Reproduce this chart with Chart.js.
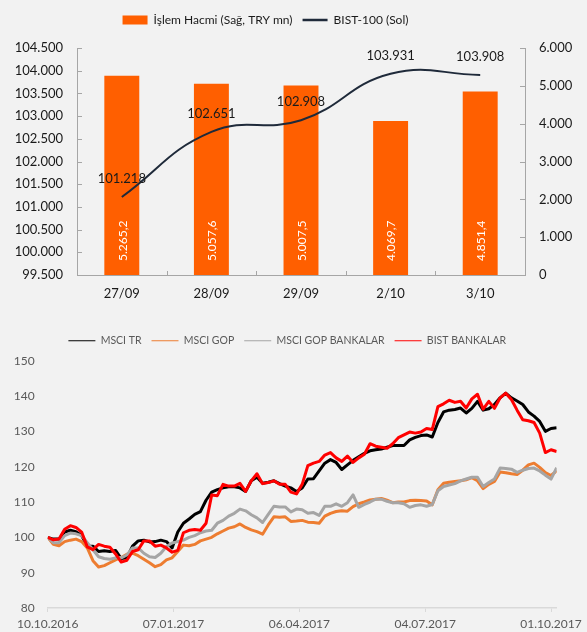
<!DOCTYPE html>
<html>
<head>
<meta charset="utf-8">
<script src="https://cdn.jsdelivr.net/npm/chart.js@4"></script>
<style>
  html, body { margin: 0; padding: 0; background: #f2f2f2; }
  #wrap { position: relative; width: 587px; height: 632px; }
  #top { position: absolute; left: 0; top: 0; width: 587px; height: 310px; }
  #bottom { position: absolute; left: 0; top: 320px; width: 587px; height: 312px; }
</style>
</head>
<body>
<div id="wrap">
  <div id="top"><canvas id="volumeChart"></canvas></div>
  <div id="bottom"><canvas id="indexChart"></canvas></div>
</div>
<script>
  'use strict';

  // top chart
  const sessions = ['27/09', '28/09', '29/09', '2/10', '3/10'];
  const volume = [5265.2, 5057.6, 5007.5, 4069.7, 4851.4];
  const bist100 = [101218, 102651, 102908, 103931, 103908];

  // bottom chart (x = days since 10.10.2016)
  const dateTicks = [0, 89, 178, 267, 356];
  const dateLabels = ['10.10.2016', '07.01.2017', '06.04.2017', '04.07.2017', '01.10.2017'];
  const dayOffsets = [
    0, 4, 8, 12, 16, 20, 24, 28, 32, 36, 40, 44, 48, 52, 56, 60, 64, 68, 72, 76,
    80, 84, 88, 92, 96, 100, 104, 108, 112, 116, 120, 124, 128, 132, 136, 140, 144, 148, 152, 156,
    160, 164, 168, 172, 176, 180, 184, 188, 192, 196, 200, 204, 208, 212, 216, 220, 224, 228, 232, 236,
    240, 244, 248, 252, 256, 260, 264, 268, 272, 276, 280, 284, 288, 292, 296, 300, 304, 308, 312, 316,
    320, 324, 328, 332, 336, 340, 344, 348, 352, 356, 360
  ];
  const msciTr = [
    100, 99.5, 99.5, 101.5, 102, 101.6, 100.5, 97.5, 97.5, 96, 96.2, 96, 96.3, 94, 94.2, 97.5, 99, 99.2, 98.7, 98.8,
    99.2, 98.8, 97, 101.5, 104, 105.2, 106.5, 107.3, 110.5, 112.8, 113.5, 114, 114.3, 114.3, 114, 113, 116, 117, 115.3, 115.6,
    116, 115.2, 114.5, 114, 113, 114, 116.5, 116.6, 118.8, 121, 122, 121.2, 119.2, 120.5, 121.8, 122.8, 123.8, 124.5, 124.8, 125,
    125.5, 126, 126, 126, 127.6, 128.3, 128.8, 129, 128.4, 132.5, 135.5, 136, 136.2, 136.6, 135.2, 136.5, 138.5, 136, 136.4, 137.6,
    139.5, 140.8, 139.5, 138.6, 137.6, 135.5, 134.3, 132.8, 130, 130.8, 131
  ];
  const msciGop = [
    100, 98, 97.6, 98.8, 99.2, 99.5, 98.8, 97, 93.4, 91.6, 92, 92.8, 93.6, 94.3, 95.2, 95.5, 94.8, 93.8, 92.8, 91.7,
    92.3, 93.6, 94.2, 96, 97.8, 97.6, 98, 99, 99.5, 100, 101, 101.8, 102.6, 103, 103.8, 102.8, 102.1, 101.6, 100.9, 103.5,
    105.8, 105.7, 105.8, 104.5, 104.6, 104.8, 104.3, 104.2, 104, 106, 106.8, 107.3, 107.5, 107.4, 108.7, 109.5, 110, 110.6, 110.8, 111,
    110.5, 109.8, 110, 110, 110.4, 110.5, 110.4, 110.3, 109.2, 113.5, 115.3, 115.6, 115.8, 116, 116.3, 116.9, 116, 113.8, 115, 115.8,
    118.5, 118.3, 118, 117.8, 119, 120.5, 121, 119.8, 118.3, 117.5, 118.8
  ];
  const msciGopBanks = [
    100, 98.5, 98.5, 100.5, 101.2, 101, 100.5, 98.5, 96.5, 94.5, 94, 93.8, 94.2, 94.2, 95, 97, 97, 95.5, 94.5, 94.3,
    95.5, 97.4, 98.4, 98.8, 99.2, 100, 100.5, 101.3, 101.8, 102, 104, 104.8, 106, 106.8, 108, 107.5, 106.4, 105.5, 104.2, 106.5,
    108.8, 108.6, 108.6, 107.2, 108, 107.8, 106.8, 107, 106.2, 108.8, 108.8, 109.5, 108.8, 109.8, 112, 108.5, 109.3, 110, 110.8, 110.8,
    110.2, 109.8, 109.8, 109.5, 108.5, 109, 109.2, 108.8, 109.3, 113.2, 114.4, 114.8, 115.2, 116, 116.5, 117, 117, 114.4, 115.5, 116.5,
    119.6, 119.5, 119.3, 118.4, 119, 119.5, 119.6, 118.8, 117.6, 116.5, 119.7
  ];
  const bistBanks = [
    100, 99.3, 99.5, 102.3, 103.3, 102.8, 101.5, 97.3, 96.5, 98, 97.5, 97.2, 95.3, 93, 93.5, 96, 96.5, 99, 99, 97.5,
    97.8, 97, 95.8, 96.3, 101.3, 102, 102.2, 102, 104, 112, 111.8, 115, 114.5, 114.5, 115.3, 113, 116, 118, 115.2, 115.5,
    116, 115, 115, 112.8, 112.3, 115, 120.3, 121, 121.5, 123.3, 124, 122.5, 121.5, 123, 121.2, 122.5, 123.5, 126.5, 125.8, 125.5,
    125.2, 126.5, 128.2, 129, 129.8, 129.5, 129.8, 130.8, 130.5, 137, 137.8, 138.8, 138.2, 138.5, 136.6, 139.2, 140.5, 136.3, 138.5, 136.5,
    139.5, 140.8, 139, 136, 133.3, 133, 132.5, 129.5, 124, 124.8, 124.3
  ];

  const FONT = 'Lato, "Liberation Sans", sans-serif';

  function formatTr(value, decimals) {
    const parts = value.toFixed(decimals).split('.');
    const whole = parts[0].replace(/\B(?=(\d{3})+(?!\d))/g, '.');
    return parts.length > 1 ? whole + ',' + parts[1] : whole;
  }

  function toPoints(values) {
    return dayOffsets.map(function (d, i) {
      return { x: d, y: values[i] };
    });
  }

  // extra room under the legend and a small horizontal shift of it
  function legendSpacing(extra, shift) {
    return {
      id: 'legendSpacing',
      beforeUpdate(chart) {
        const legend = chart.legend;
        if (!legend || legend._patched) {
          return;
        }
        const fit = legend.fit;
        legend.fit = function () {
          fit.call(this);
          this.height += extra;
        };
        legend._patched = true;
      },
      afterLayout(chart) {
        chart.legend.left += shift;
        chart.legend.right += shift;
      },
    };
  }

  // short tick marks pointing into the plot, like the original
  const innerTicks = {
    id: 'innerTicks',
    beforeDatasetsDraw(chart) {
      const ctx = chart.ctx;
      const area = chart.chartArea;
      const y = chart.scales.y;
      const y1 = chart.scales.y1;
      const x = chart.scales.x;
      ctx.save();
      ctx.strokeStyle = '#a6a6a6';
      ctx.lineWidth = 1;
      ctx.beginPath();
      y.ticks.forEach(function (t) {
        const py = Math.round(y.getPixelForValue(t.value)) + 0.5;
        ctx.moveTo(area.left, py);
        ctx.lineTo(area.left + 5, py);
      });
      y1.ticks.forEach(function (t) {
        const py = Math.round(y1.getPixelForValue(t.value)) + 0.5;
        ctx.moveTo(area.right - 5, py);
        ctx.lineTo(area.right, py);
      });
      for (let i = 0; i < sessions.length - 1; i++) {
        const px = Math.round((x.getPixelForValue(i) + x.getPixelForValue(i + 1)) / 2) + 0.5;
        ctx.moveTo(px, area.bottom);
        ctx.lineTo(px, area.bottom - 4);
      }
      ctx.stroke();
      ctx.restore();
    },
  };

  const valueLabels = {
    id: 'valueLabels',
    afterDatasetsDraw(chart) {
      const ctx = chart.ctx;
      chart.data.datasets.forEach(function (ds, di) {
        const meta = chart.getDatasetMeta(di);
        meta.data.forEach(function (el, i) {
          ctx.save();
          if (ds.type === 'bar') {
            ctx.translate(el.x + 1, el.base - 14);
            ctx.rotate(-Math.PI / 2);
            ctx.fillStyle = '#ffffff';
            ctx.font = '12px ' + FONT;
            ctx.textAlign = 'left';
            ctx.textBaseline = 'middle';
            ctx.fillText(formatTr(ds.data[i], 1), 0, 0);
          } else {
            ctx.fillStyle = '#1a1a1a';
            ctx.font = '13px ' + FONT;
            ctx.textAlign = 'center';
            ctx.textBaseline = 'middle';
            ctx.fillText(formatTr(ds.data[i], 0), el.x, el.y - 18);
          }
          ctx.restore();
        });
      });
    },
  };

  new Chart(document.getElementById('volumeChart'), {
    data: {
      labels: sessions,
      datasets: [
        {
          type: 'bar',
          label: 'İşlem Hacmi (Sağ, TRY mn)',
          data: volume,
          yAxisID: 'y1',
          backgroundColor: '#ff5f00',
          barPercentage: 0.39,
          categoryPercentage: 1,
          order: 2,
        },
        {
          type: 'line',
          label: 'BIST-100 (Sol)',
          data: bist100,
          yAxisID: 'y',
          borderColor: '#1f2a3a',
          borderWidth: 2,
          tension: 0.45,
          pointRadius: 0,
          order: 1,
        },
      ],
    },
    options: {
      responsive: true,
      maintainAspectRatio: false,
      animation: false,
      layout: { padding: { top: 4, left: 0, right: 0, bottom: 0 } },
      plugins: {
        tooltip: { enabled: false },
        legend: {
          position: 'top',
          labels: {
            usePointStyle: true,
            pointStyleWidth: 25,
            boxHeight: 9,
            padding: 10,
            color: '#1a1a1a',
            font: { family: FONT, size: 12 },
            sort: function (a, b) {
              return a.datasetIndex - b.datasetIndex;
            },
            generateLabels: function (chart) {
              const items = Chart.defaults.plugins.legend.labels.generateLabels(chart);
              items.forEach(function (item) {
                const ds = chart.data.datasets[item.datasetIndex];
                if (ds.type === 'bar') {
                  item.pointStyle = 'rect';
                  item.lineWidth = 0;
                } else {
                  item.pointStyle = 'line';
                  item.strokeStyle = ds.borderColor;
                  item.lineWidth = 2.5;
                }
              });
              return items;
            },
          },
        },
      },
      scales: {
        x: {
          grid: { display: false, drawTicks: false },
          border: { display: true, color: '#a6a6a6' },
          ticks: { color: '#1a1a1a', font: { family: FONT, size: 13 }, padding: 11, maxRotation: 0 },
          afterFit: function (scale) {
            scale.height = 35;
          },
        },
        y: {
          position: 'left',
          min: 99500,
          max: 104500,
          grid: { display: false, drawTicks: false },
          border: { display: true, color: '#a6a6a6' },
          ticks: {
            stepSize: 500,
            padding: 14,
            color: '#1a1a1a',
            font: { family: FONT, size: 13 },
            callback: function (value) {
              return formatTr(value, 0);
            },
          },
          afterFit: function (scale) {
            scale.width = 77;
          },
        },
        y1: {
          position: 'right',
          min: 0,
          max: 6000,
          grid: { display: false, drawTicks: false },
          border: { display: true, color: '#a6a6a6' },
          ticks: {
            stepSize: 1000,
            padding: 14,
            color: '#1a1a1a',
            font: { family: FONT, size: 13 },
            callback: function (value) {
              return formatTr(value, 0);
            },
          },
          afterFit: function (scale) {
            scale.width = 62;
          },
        },
      },
    },
    plugins: [legendSpacing(12, -28), innerTicks, valueLabels],
  });

  new Chart(document.getElementById('indexChart'), {
    type: 'line',
    data: {
      datasets: [
        { label: 'MSCI TR', data: toPoints(msciTr), borderColor: '#000000', backgroundColor: '#000000', order: 4 },
        { label: 'MSCI GOP', data: toPoints(msciGop), borderColor: '#ed7d31', backgroundColor: '#ed7d31', order: 3 },
        { label: 'MSCI GOP BANKALAR', data: toPoints(msciGopBanks), borderColor: '#a5a5a5', backgroundColor: '#a5a5a5', order: 2 },
        { label: 'BIST BANKALAR', data: toPoints(bistBanks), borderColor: '#ff0000', backgroundColor: '#ff0000', order: 1 },
      ],
    },
    options: {
      responsive: true,
      maintainAspectRatio: false,
      animation: false,
      elements: {
        point: { radius: 0 },
        line: { borderWidth: 3, tension: 0, borderJoinStyle: 'round' },
      },
      layout: { padding: { top: 5.5, left: 0, right: 28.5, bottom: 0 } },
      plugins: {
        tooltip: { enabled: false },
        legend: {
          position: 'top',
          labels: {
            usePointStyle: true,
            pointStyle: 'line',
            pointStyleWidth: 27,
            padding: 10,
            color: '#595959',
            font: { family: FONT, size: 10.5 },
            sort: function (a, b) {
              return a.datasetIndex - b.datasetIndex;
            },
          },
        },
      },
      scales: {
        x: {
          type: 'linear',
          min: 0,
          max: 360,
          afterBuildTicks: function (scale) {
            scale.ticks = dateTicks.map(function (v) {
              return { value: v };
            });
          },
          grid: { display: true, drawOnChartArea: false, drawTicks: true, tickLength: 4, color: '#d9d9d9' },
          border: { display: true, color: '#d9d9d9', width: 1.5 },
          ticks: {
            autoSkip: false,
            maxRotation: 0,
            padding: 5,
            color: '#595959',
            font: { family: FONT, size: 12 },
            callback: function (value, index) {
              return dateLabels[index];
            },
          },
          afterFit: function (scale) {
            scale.height = 24;
          },
        },
        y: {
          min: 80,
          max: 150,
          grid: { display: false, drawTicks: false },
          border: { display: false },
          ticks: {
            stepSize: 10,
            padding: 13,
            color: '#595959',
            font: { family: FONT, size: 12 },
          },
          afterFit: function (scale) {
            scale.width = 47.7;
          },
        },
      },
    },
    plugins: [legendSpacing(4.7, 8)],
  });
</script>
</body>
</html>
